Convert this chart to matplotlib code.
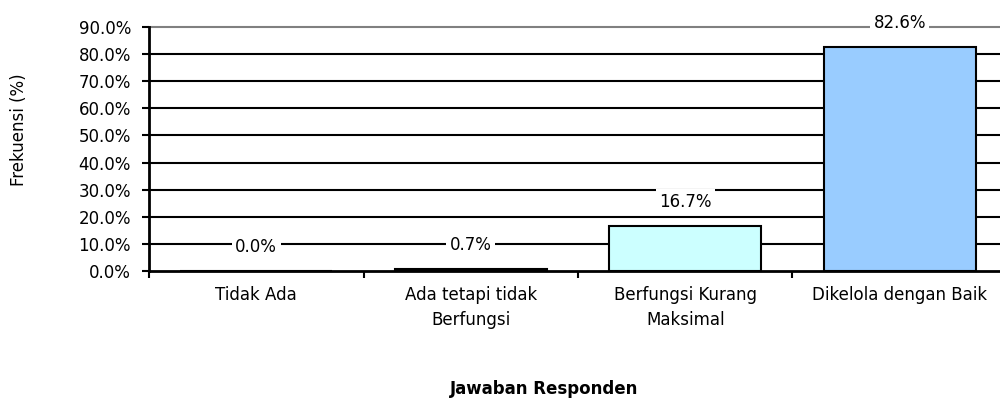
import matplotlib.pyplot as plt
from matplotlib.ticker import FuncFormatter, FixedLocator, NullFormatter

categories = ["Tidak Ada", "Ada tetapi tidak\nBerfungsi",
              "Berfungsi Kurang\nMaksimal", "Dikelola dengan Baik"]
values = [0.0, 0.7, 16.7, 82.6]
colors = ["#000000", "#000000", "#CCFFFF", "#99CCFF"]

FS = 12

fig = plt.figure(figsize=(10, 4.03), dpi=100)
ax = fig.add_axes([0.149, 0.3275, 0.858, 0.6055])

x = list(range(len(categories)))
ax.bar(x, values, width=0.71, color=colors, edgecolor="black", linewidth=1.5, zorder=3)

ax.set_xlim(-0.5, len(categories) - 0.5)
ax.set_ylim(0, 90)
ax.set_yticks(range(0, 91, 10))
ax.yaxis.set_major_formatter(FuncFormatter(lambda v, p: f"{v:.1f}%"))
for yv in range(10, 91, 10):
    ax.axhline(yv, color="#808080" if yv == 90 else "black", linewidth=1.5,
               zorder=1, clip_on=False)

# category boundaries as ticks, labels in between
ax.xaxis.set_major_locator(FixedLocator([i - 0.5 for i in range(len(categories) + 1)]))
ax.xaxis.set_major_formatter(NullFormatter())
ax.set_xticks(x, minor=True)
ax.set_xticklabels(categories, minor=True, fontsize=FS, linespacing=1.45)
ax.tick_params(axis="x", which="minor", length=0, pad=11)
ax.tick_params(axis="x", which="major", length=5, width=1.5, direction="out")
ax.tick_params(axis="y", length=5, width=1.5, labelsize=FS, pad=8)

for s in ["top", "right"]:
    ax.spines[s].set_visible(False)
ax.spines["left"].set_linewidth(2)
ax.spines["bottom"].set_linewidth(2)
ax.spines["bottom"].set_zorder(4)

for xi, v in zip(x, values):
    ax.annotate(f"{v:.1f}%", (xi, v), xytext=(0, 24), textcoords="offset pixels",
                ha="center", va="center", fontsize=FS, zorder=5,
                bbox=dict(facecolor="white", edgecolor="none", pad=2.5))

ax.set_ylabel("Frekuensi (%)", fontsize=FS)
ax.yaxis.set_label_coords(-0.141, 0.58)
fig.text(0.544, 0.035, "Jawaban Responden", ha="center", va="center",
         fontsize=FS, fontweight="bold")

fig.savefig("out.png", dpi=100)
